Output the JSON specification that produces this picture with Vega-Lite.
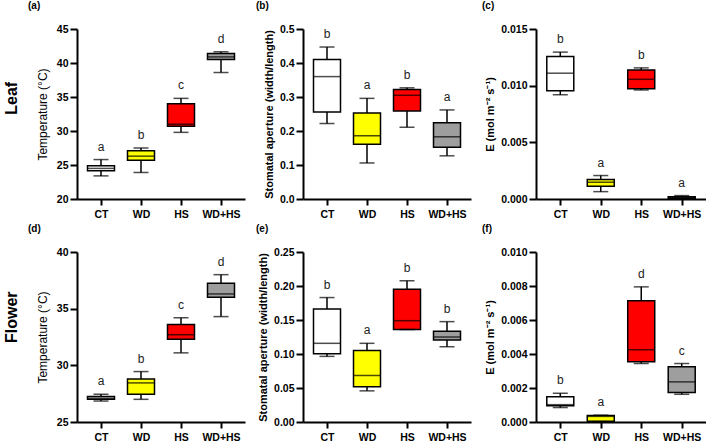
{
  "$schema": "https://vega.github.io/schema/vega-lite/v6.json",
  "background": "white",
  "padding": {"left": 4, "top": 1, "right": 0, "bottom": 0},
  "datasets": {
    "a": [
      {"group": "CT", "min": 23.4, "q1": 24.15, "median": 24.5, "q3": 24.9, "max": 25.8, "letter": "a"},
      {"group": "WD", "min": 23.9, "q1": 25.7, "median": 26.3, "q3": 27.1, "max": 27.5, "letter": "b"},
      {"group": "HS", "min": 29.8, "q1": 30.7, "median": 31.0, "q3": 34.0, "max": 34.8, "letter": "c"},
      {"group": "WD+HS", "min": 38.6, "q1": 40.5, "median": 40.9, "q3": 41.4, "max": 41.65, "letter": "d"}
    ],
    "b": [
      {"group": "CT", "min": 0.222, "q1": 0.256, "median": 0.36, "q3": 0.41, "max": 0.447, "letter": "b"},
      {"group": "WD", "min": 0.106, "q1": 0.161, "median": 0.186, "q3": 0.253, "max": 0.296, "letter": "a"},
      {"group": "HS", "min": 0.211, "q1": 0.259, "median": 0.305, "q3": 0.322, "max": 0.327, "letter": "b"},
      {"group": "WD+HS", "min": 0.127, "q1": 0.152, "median": 0.183, "q3": 0.224, "max": 0.262, "letter": "a"}
    ],
    "c": [
      {"group": "CT", "min": 0.0092, "q1": 0.00955, "median": 0.0111, "q3": 0.01257, "max": 0.01296, "letter": "b"},
      {"group": "WD", "min": 0.00065, "q1": 0.00112, "median": 0.00148, "q3": 0.00172, "max": 0.00207, "letter": "a"},
      {"group": "HS", "min": 0.00962, "q1": 0.00973, "median": 0.01056, "q3": 0.01139, "max": 0.01157, "letter": "b"},
      {"group": "WD+HS", "min": 0.0, "q1": 0.00005, "median": 0.0001, "q3": 0.0002, "max": 0.0003, "letter": "a"}
    ],
    "d": [
      {"group": "CT", "min": 26.85, "q1": 27.0, "median": 27.1, "q3": 27.25, "max": 27.45, "letter": "a"},
      {"group": "WD", "min": 27.0, "q1": 27.45, "median": 28.45, "q3": 28.8, "max": 29.45, "letter": "b"},
      {"group": "HS", "min": 31.1, "q1": 32.3, "median": 32.7, "q3": 33.6, "max": 34.2, "letter": "c"},
      {"group": "WD+HS", "min": 34.3, "q1": 36.0, "median": 36.3, "q3": 37.25, "max": 38.0, "letter": "d"}
    ],
    "e": [
      {"group": "CT", "min": 0.0965, "q1": 0.1004, "median": 0.1157, "q3": 0.166, "max": 0.183, "letter": "b"},
      {"group": "WD", "min": 0.0458, "q1": 0.052, "median": 0.0684, "q3": 0.105, "max": 0.1157, "letter": "a"},
      {"group": "HS", "min": 0.136, "q1": 0.136, "median": 0.149, "q3": 0.1954, "max": 0.2077, "letter": "b"},
      {"group": "WD+HS", "min": 0.1107, "q1": 0.1206, "median": 0.125, "q3": 0.1334, "max": 0.1476, "letter": "b"}
    ],
    "f": [
      {"group": "CT", "min": 0.00085, "q1": 0.00095, "median": 0.00102, "q3": 0.00148, "max": 0.00169, "letter": "b"},
      {"group": "WD", "min": 0.00002, "q1": 0.00005, "median": 0.00033, "q3": 0.00038, "max": 0.0004, "letter": "a"},
      {"group": "HS", "min": 0.00344, "q1": 0.00354, "median": 0.00425, "q3": 0.00713, "max": 0.00795, "letter": "d"},
      {"group": "WD+HS", "min": 0.00163, "q1": 0.00173, "median": 0.00236, "q3": 0.00325, "max": 0.00344, "letter": "c"}
    ]
  },
  "config": {
    "view": {"stroke": null},
    "font": "Liberation Sans",
    "axis": {
      "grid": false,
      "domainColor": "black",
      "domainWidth": 2,
      "tickColor": "black",
      "tickWidth": 2,
      "tickSize": 6,
      "labelOverlap": false,
      "labelFont": "Liberation Sans",
      "labelFontWeight": "bold",
      "labelFontSize": 10.5,
      "labelColor": "black",
      "labelPadding": 2,
      "titleFont": "Liberation Sans",
      "titleColor": "black",
      "titleFontSize": 11,
      "titleFontWeight": "bold"
    },
    "axisY": {"tickSize": 7},
    "title": {"font": "Liberation Sans", "fontWeight": "bold", "fontSize": 10, "color": "black", "anchor": "start", "frame": "group"}
  },
  "spacing": 4,
  "vconcat": [
    {
      "title": {"text": "Leaf", "orient": "left", "anchor": "middle", "frame": "bounds", "fontSize": 16, "fontWeight": "bold", "offset": 8, "dx": 12},
      "spacing": 11,
      "hconcat": [
        {
          "title": {"text": "(a)", "dx": -49, "offset": 13},
          "width": 168, "height": 170,
          "data": {"name": "a"},
          "encoding": {"x": {"field": "group", "type": "nominal", "title": null, "scale": {"type": "point", "domain": ["CT", "WD", "HS", "WD+HS"], "padding": 0.6}, "axis": {"labelAngle": 0, "labelPadding": 4}}},
          "layer": [
            {"mark": {"type": "rule", "color": "black", "strokeWidth": 1.5}, "encoding": {"y": {"field": "min", "type": "quantitative", "title": "Temperature (°C)", "scale": {"domain": [20, 45], "nice": false, "zero": false}, "axis": {"values": [20, 25, 30, 35, 40, 45], "titleFontWeight": "normal", "titleFontSize": 12, "titlePadding": 7}}, "y2": {"field": "max"}}},
            {"mark": {"type": "bar", "width": 27, "stroke": "black", "strokeWidth": 1.5}, "encoding": {"y": {"field": "q1", "type": "quantitative", "title": "Temperature (°C)", "axis": {"values": [20, 25, 30, 35, 40, 45], "titleFontWeight": "normal", "titleFontSize": 12, "titlePadding": 7}}, "y2": {"field": "q3"}, "fill": {"field": "group", "type": "nominal", "scale": {"domain": ["CT", "WD", "HS", "WD+HS"], "range": ["#ffffff", "#ffff00", "#ff0000", "#9e9e9e"]}, "legend": null}}},
            {"mark": {"type": "tick", "color": "black", "size": 27, "thickness": 1.5}, "encoding": {"y": {"field": "median", "type": "quantitative", "title": "Temperature (°C)", "axis": {"values": [20, 25, 30, 35, 40, 45], "titleFontWeight": "normal", "titleFontSize": 12, "titlePadding": 7}}}},
            {"mark": {"type": "tick", "color": "black", "size": 15, "thickness": 1.5}, "encoding": {"y": {"field": "min", "type": "quantitative", "title": "Temperature (°C)", "axis": {"values": [20, 25, 30, 35, 40, 45], "titleFontWeight": "normal", "titleFontSize": 12, "titlePadding": 7}}}},
            {"mark": {"type": "tick", "color": "black", "size": 15, "thickness": 1.5}, "encoding": {"y": {"field": "max", "type": "quantitative", "title": "Temperature (°C)", "axis": {"values": [20, 25, 30, 35, 40, 45], "titleFontWeight": "normal", "titleFontSize": 12, "titlePadding": 7}}}},
            {"mark": {"type": "text", "dy": -6, "baseline": "bottom", "fontSize": 12, "font": "Liberation Sans", "color": "#222"}, "encoding": {"y": {"field": "max", "type": "quantitative", "title": "Temperature (°C)", "axis": {"values": [20, 25, 30, 35, 40, 45], "titleFontWeight": "normal", "titleFontSize": 12, "titlePadding": 7}}, "text": {"field": "letter"}}}
          ]
        },
        {
          "title": {"text": "(b)", "dx": -47, "offset": 13},
          "width": 168, "height": 170,
          "data": {"name": "b"},
          "encoding": {"x": {"field": "group", "type": "nominal", "title": null, "scale": {"type": "point", "domain": ["CT", "WD", "HS", "WD+HS"], "padding": 0.6}, "axis": {"labelAngle": 0, "labelPadding": 4}}},
          "layer": [
            {"mark": {"type": "rule", "color": "black", "strokeWidth": 1.5}, "encoding": {"y": {"field": "min", "type": "quantitative", "title": "Stomatal aperture (width/length)", "scale": {"domain": [0, 0.5], "nice": false}, "axis": {"values": [0, 0.1, 0.2, 0.3, 0.4, 0.5], "format": ".1f", "titlePadding": 5}}, "y2": {"field": "max"}}},
            {"mark": {"type": "bar", "width": 27, "stroke": "black", "strokeWidth": 1.5}, "encoding": {"y": {"field": "q1", "type": "quantitative", "title": "Stomatal aperture (width/length)", "axis": {"values": [0, 0.1, 0.2, 0.3, 0.4, 0.5], "format": ".1f", "titlePadding": 5}}, "y2": {"field": "q3"}, "fill": {"field": "group", "type": "nominal", "scale": {"domain": ["CT", "WD", "HS", "WD+HS"], "range": ["#ffffff", "#ffff00", "#ff0000", "#9e9e9e"]}, "legend": null}}},
            {"mark": {"type": "tick", "color": "black", "size": 27, "thickness": 1.5}, "encoding": {"y": {"field": "median", "type": "quantitative", "title": "Stomatal aperture (width/length)", "axis": {"values": [0, 0.1, 0.2, 0.3, 0.4, 0.5], "format": ".1f", "titlePadding": 5}}}},
            {"mark": {"type": "tick", "color": "black", "size": 15, "thickness": 1.5}, "encoding": {"y": {"field": "min", "type": "quantitative", "title": "Stomatal aperture (width/length)", "axis": {"values": [0, 0.1, 0.2, 0.3, 0.4, 0.5], "format": ".1f", "titlePadding": 5}}}},
            {"mark": {"type": "tick", "color": "black", "size": 15, "thickness": 1.5}, "encoding": {"y": {"field": "max", "type": "quantitative", "title": "Stomatal aperture (width/length)", "axis": {"values": [0, 0.1, 0.2, 0.3, 0.4, 0.5], "format": ".1f", "titlePadding": 5}}}},
            {"mark": {"type": "text", "dy": -6, "baseline": "bottom", "fontSize": 12, "font": "Liberation Sans", "color": "#222"}, "encoding": {"y": {"field": "max", "type": "quantitative", "title": "Stomatal aperture (width/length)", "axis": {"values": [0, 0.1, 0.2, 0.3, 0.4, 0.5], "format": ".1f", "titlePadding": 5}}, "text": {"field": "letter"}}}
          ]
        },
        {
          "title": {"text": "(c)", "dx": -54, "offset": 13},
          "width": 170, "height": 170,
          "data": {"name": "c"},
          "encoding": {"x": {"field": "group", "type": "nominal", "title": null, "scale": {"type": "point", "domain": ["CT", "WD", "HS", "WD+HS"], "padding": 0.6}, "axis": {"labelAngle": 0, "labelPadding": 4}}},
          "layer": [
            {"mark": {"type": "rule", "color": "black", "strokeWidth": 1.5}, "encoding": {"y": {"field": "min", "type": "quantitative", "title": "E (mol m⁻² s⁻¹)", "scale": {"domain": [0, 0.015], "nice": false}, "axis": {"values": [0, 0.005, 0.01, 0.015], "format": ".3f", "titlePadding": 5}}, "y2": {"field": "max"}}},
            {"mark": {"type": "bar", "width": 27, "stroke": "black", "strokeWidth": 1.5}, "encoding": {"y": {"field": "q1", "type": "quantitative", "title": "E (mol m⁻² s⁻¹)", "axis": {"values": [0, 0.005, 0.01, 0.015], "format": ".3f", "titlePadding": 5}}, "y2": {"field": "q3"}, "fill": {"field": "group", "type": "nominal", "scale": {"domain": ["CT", "WD", "HS", "WD+HS"], "range": ["#ffffff", "#ffff00", "#ff0000", "#9e9e9e"]}, "legend": null}}},
            {"mark": {"type": "tick", "color": "black", "size": 27, "thickness": 1.5}, "encoding": {"y": {"field": "median", "type": "quantitative", "title": "E (mol m⁻² s⁻¹)", "axis": {"values": [0, 0.005, 0.01, 0.015], "format": ".3f", "titlePadding": 5}}}},
            {"mark": {"type": "tick", "color": "black", "size": 15, "thickness": 1.5}, "encoding": {"y": {"field": "min", "type": "quantitative", "title": "E (mol m⁻² s⁻¹)", "axis": {"values": [0, 0.005, 0.01, 0.015], "format": ".3f", "titlePadding": 5}}}},
            {"mark": {"type": "tick", "color": "black", "size": 15, "thickness": 1.5}, "encoding": {"y": {"field": "max", "type": "quantitative", "title": "E (mol m⁻² s⁻¹)", "axis": {"values": [0, 0.005, 0.01, 0.015], "format": ".3f", "titlePadding": 5}}}},
            {"mark": {"type": "text", "dy": -6, "baseline": "bottom", "fontSize": 12, "font": "Liberation Sans", "color": "#222"}, "encoding": {"y": {"field": "max", "type": "quantitative", "title": "E (mol m⁻² s⁻¹)", "axis": {"values": [0, 0.005, 0.01, 0.015], "format": ".3f", "titlePadding": 5}}, "text": {"field": "letter"}}}
          ]
        }
      ]
    },
    {
      "title": {"text": "Flower", "orient": "left", "anchor": "middle", "frame": "bounds", "fontSize": 16, "fontWeight": "bold", "offset": 8, "dx": 16},
      "spacing": 11,
      "hconcat": [
        {
          "title": {"text": "(d)", "dx": -49, "offset": 13},
          "width": 168, "height": 170,
          "data": {"name": "d"},
          "encoding": {"x": {"field": "group", "type": "nominal", "title": null, "scale": {"type": "point", "domain": ["CT", "WD", "HS", "WD+HS"], "padding": 0.6}, "axis": {"labelAngle": 0, "labelPadding": 4}}},
          "layer": [
            {"mark": {"type": "rule", "color": "black", "strokeWidth": 1.5}, "encoding": {"y": {"field": "min", "type": "quantitative", "title": "Temperature (°C)", "scale": {"domain": [25, 40], "nice": false, "zero": false}, "axis": {"values": [25, 30, 35, 40], "titleFontWeight": "normal", "titleFontSize": 12, "titlePadding": 7}}, "y2": {"field": "max"}}},
            {"mark": {"type": "bar", "width": 27, "stroke": "black", "strokeWidth": 1.5}, "encoding": {"y": {"field": "q1", "type": "quantitative", "title": "Temperature (°C)", "axis": {"values": [25, 30, 35, 40], "titleFontWeight": "normal", "titleFontSize": 12, "titlePadding": 7}}, "y2": {"field": "q3"}, "fill": {"field": "group", "type": "nominal", "scale": {"domain": ["CT", "WD", "HS", "WD+HS"], "range": ["#ffffff", "#ffff00", "#ff0000", "#9e9e9e"]}, "legend": null}}},
            {"mark": {"type": "tick", "color": "black", "size": 27, "thickness": 1.5}, "encoding": {"y": {"field": "median", "type": "quantitative", "title": "Temperature (°C)", "axis": {"values": [25, 30, 35, 40], "titleFontWeight": "normal", "titleFontSize": 12, "titlePadding": 7}}}},
            {"mark": {"type": "tick", "color": "black", "size": 15, "thickness": 1.5}, "encoding": {"y": {"field": "min", "type": "quantitative", "title": "Temperature (°C)", "axis": {"values": [25, 30, 35, 40], "titleFontWeight": "normal", "titleFontSize": 12, "titlePadding": 7}}}},
            {"mark": {"type": "tick", "color": "black", "size": 15, "thickness": 1.5}, "encoding": {"y": {"field": "max", "type": "quantitative", "title": "Temperature (°C)", "axis": {"values": [25, 30, 35, 40], "titleFontWeight": "normal", "titleFontSize": 12, "titlePadding": 7}}}},
            {"mark": {"type": "text", "dy": -6, "baseline": "bottom", "fontSize": 12, "font": "Liberation Sans", "color": "#222"}, "encoding": {"y": {"field": "max", "type": "quantitative", "title": "Temperature (°C)", "axis": {"values": [25, 30, 35, 40], "titleFontWeight": "normal", "titleFontSize": 12, "titlePadding": 7}}, "text": {"field": "letter"}}}
          ]
        },
        {
          "title": {"text": "(e)", "dx": -47, "offset": 13},
          "width": 168, "height": 170,
          "data": {"name": "e"},
          "encoding": {"x": {"field": "group", "type": "nominal", "title": null, "scale": {"type": "point", "domain": ["CT", "WD", "HS", "WD+HS"], "padding": 0.6}, "axis": {"labelAngle": 0, "labelPadding": 4}}},
          "layer": [
            {"mark": {"type": "rule", "color": "black", "strokeWidth": 1.5}, "encoding": {"y": {"field": "min", "type": "quantitative", "title": "Stomatal aperture (width/length)", "scale": {"domain": [0, 0.25], "nice": false}, "axis": {"values": [0, 0.05, 0.1, 0.15, 0.2, 0.25], "format": ".2f", "titlePadding": 5}}, "y2": {"field": "max"}}},
            {"mark": {"type": "bar", "width": 27, "stroke": "black", "strokeWidth": 1.5}, "encoding": {"y": {"field": "q1", "type": "quantitative", "title": "Stomatal aperture (width/length)", "axis": {"values": [0, 0.05, 0.1, 0.15, 0.2, 0.25], "format": ".2f", "titlePadding": 5}}, "y2": {"field": "q3"}, "fill": {"field": "group", "type": "nominal", "scale": {"domain": ["CT", "WD", "HS", "WD+HS"], "range": ["#ffffff", "#ffff00", "#ff0000", "#9e9e9e"]}, "legend": null}}},
            {"mark": {"type": "tick", "color": "black", "size": 27, "thickness": 1.5}, "encoding": {"y": {"field": "median", "type": "quantitative", "title": "Stomatal aperture (width/length)", "axis": {"values": [0, 0.05, 0.1, 0.15, 0.2, 0.25], "format": ".2f", "titlePadding": 5}}}},
            {"mark": {"type": "tick", "color": "black", "size": 15, "thickness": 1.5}, "encoding": {"y": {"field": "min", "type": "quantitative", "title": "Stomatal aperture (width/length)", "axis": {"values": [0, 0.05, 0.1, 0.15, 0.2, 0.25], "format": ".2f", "titlePadding": 5}}}},
            {"mark": {"type": "tick", "color": "black", "size": 15, "thickness": 1.5}, "encoding": {"y": {"field": "max", "type": "quantitative", "title": "Stomatal aperture (width/length)", "axis": {"values": [0, 0.05, 0.1, 0.15, 0.2, 0.25], "format": ".2f", "titlePadding": 5}}}},
            {"mark": {"type": "text", "dy": -6, "baseline": "bottom", "fontSize": 12, "font": "Liberation Sans", "color": "#222"}, "encoding": {"y": {"field": "max", "type": "quantitative", "title": "Stomatal aperture (width/length)", "axis": {"values": [0, 0.05, 0.1, 0.15, 0.2, 0.25], "format": ".2f", "titlePadding": 5}}, "text": {"field": "letter"}}}
          ]
        },
        {
          "title": {"text": "(f)", "dx": -54, "offset": 13},
          "width": 170, "height": 170,
          "data": {"name": "f"},
          "encoding": {"x": {"field": "group", "type": "nominal", "title": null, "scale": {"type": "point", "domain": ["CT", "WD", "HS", "WD+HS"], "padding": 0.6}, "axis": {"labelAngle": 0, "labelPadding": 4}}},
          "layer": [
            {"mark": {"type": "rule", "color": "black", "strokeWidth": 1.5}, "encoding": {"y": {"field": "min", "type": "quantitative", "title": "E (mol m⁻² s⁻¹)", "scale": {"domain": [0, 0.01], "nice": false}, "axis": {"values": [0, 0.002, 0.004, 0.006, 0.008, 0.01], "format": ".3f", "titlePadding": 5}}, "y2": {"field": "max"}}},
            {"mark": {"type": "bar", "width": 27, "stroke": "black", "strokeWidth": 1.5}, "encoding": {"y": {"field": "q1", "type": "quantitative", "title": "E (mol m⁻² s⁻¹)", "axis": {"values": [0, 0.002, 0.004, 0.006, 0.008, 0.01], "format": ".3f", "titlePadding": 5}}, "y2": {"field": "q3"}, "fill": {"field": "group", "type": "nominal", "scale": {"domain": ["CT", "WD", "HS", "WD+HS"], "range": ["#ffffff", "#ffff00", "#ff0000", "#9e9e9e"]}, "legend": null}}},
            {"mark": {"type": "tick", "color": "black", "size": 27, "thickness": 1.5}, "encoding": {"y": {"field": "median", "type": "quantitative", "title": "E (mol m⁻² s⁻¹)", "axis": {"values": [0, 0.002, 0.004, 0.006, 0.008, 0.01], "format": ".3f", "titlePadding": 5}}}},
            {"mark": {"type": "tick", "color": "black", "size": 15, "thickness": 1.5}, "encoding": {"y": {"field": "min", "type": "quantitative", "title": "E (mol m⁻² s⁻¹)", "axis": {"values": [0, 0.002, 0.004, 0.006, 0.008, 0.01], "format": ".3f", "titlePadding": 5}}}},
            {"mark": {"type": "tick", "color": "black", "size": 15, "thickness": 1.5}, "encoding": {"y": {"field": "max", "type": "quantitative", "title": "E (mol m⁻² s⁻¹)", "axis": {"values": [0, 0.002, 0.004, 0.006, 0.008, 0.01], "format": ".3f", "titlePadding": 5}}}},
            {"mark": {"type": "text", "dy": -6, "baseline": "bottom", "fontSize": 12, "font": "Liberation Sans", "color": "#222"}, "encoding": {"y": {"field": "max", "type": "quantitative", "title": "E (mol m⁻² s⁻¹)", "axis": {"values": [0, 0.002, 0.004, 0.006, 0.008, 0.01], "format": ".3f", "titlePadding": 5}}, "text": {"field": "letter"}}}
          ]
        }
      ]
    }
  ]
}
